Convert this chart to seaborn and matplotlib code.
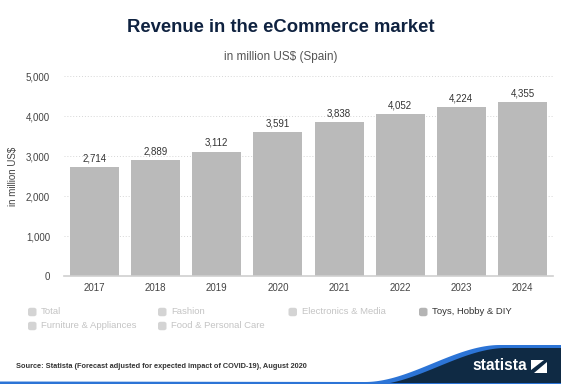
import numpy as np
import pandas as pd
import matplotlib
matplotlib.use("Agg")
import matplotlib.pyplot as plt
import seaborn as sns
from matplotlib.patches import FancyBboxPatch, Polygon
from matplotlib.ticker import FuncFormatter

years = ["2017", "2018", "2019", "2020", "2021", "2022", "2023", "2024"]
revenue = [2714, 2889, 3112, 3591, 3838, 4052, 4224, 4355]
legend_row1 = ["Total", "Fashion", "Electronics & Media", "Toys, Hobby & DIY"]
legend_row2 = ["Furniture & Appliances", "Food & Personal Care"]

df = pd.DataFrame({"year": years, "revenue": revenue})

sns.set_theme(style="white")
plt.rcParams["font.family"] = ["Liberation Sans", "DejaVu Sans"]

W, H = 561, 384
fig = plt.figure(figsize=(W / 100, H / 100), dpi=100)
fig.patch.set_facecolor("white")

def fx(px):
    return px / W

def fy(py):
    return 1 - py / H

ax = fig.add_axes([fx(64), fy(276), fx(553) - fx(64), fy(76) - fy(276)])
sns.barplot(data=df, x="year", y="revenue", color="#bababa", saturation=1,
            width=0.8, ax=ax, edgecolor="none")
ax.set_xlim(-0.5, 7.5)
ax.set_ylim(0, 5000)
ax.set_yticks(range(0, 5001, 1000))
ax.yaxis.set_major_formatter(FuncFormatter(lambda v, p: f"{int(v):,}"))
ax.grid(axis="y", color="#d6d6d6", linestyle=(0, (1, 2)), linewidth=0.7)
ax.set_axisbelow(True)
for s in ["top", "right", "left"]:
    ax.spines[s].set_visible(False)
ax.spines["bottom"].set_color("#cfcfcf")
ax.spines["bottom"].set_linewidth(1.2)
ax.tick_params(axis="both", length=0, labelsize=7, colors="#444444")
ax.tick_params(axis="y", pad=10)
ax.tick_params(axis="x", pad=5)
ax.set_xlabel("")
ax.set_ylabel("in million US$", fontsize=7, color="#444444", labelpad=6)

for i, v in enumerate(revenue):
    ax.text(i, v + 90, f"{v:,}", ha="center", va="bottom", fontsize=7, color="#333333")

fig.text(fx(281), fy(28), "Revenue in the eCommerce market", ha="center", va="center",
         fontsize=13.3, fontweight="bold", color="#0f2240")
fig.text(fx(280.5), fy(57), "in million US$ (Spain)", ha="center", va="center",
         fontsize=8.5, color="#555555")

# legend
def legend_item(px, py, label, active):
    sq = 8.5
    box = FancyBboxPatch((fx(px), fy(py + sq / 2)), fx(sq), sq / H,
                         boxstyle="round,pad=0,rounding_size=0.005",
                         transform=fig.transFigure, facecolor="#b4b4b4" if active else "#d4d4d4",
                         edgecolor="none")
    fig.patches.append(box)
    fig.text(fx(px + 13), fy(py), label, ha="left", va="center", fontsize=6.8,
             color="#333333" if active else "#c4c4c4")

xs = [28, 158, 288.5, 419]
for i, lab in enumerate(legend_row1):
    legend_item(xs[i], 312, lab, lab == "Toys, Hobby & DIY")
for i, lab in enumerate(legend_row2):
    legend_item(xs[i], 326, lab, False)

fig.text(fx(15.5), fy(366.5), "Source: Statista (Forecast adjusted for expected impact of COVID-19), August 2020",
         ha="left", va="center", fontsize=5.3, fontweight="bold", color="#333333")

# footer shape
t = np.linspace(0, 1, 60)
xc = 365 + (500 - 365) * t
yc = 382 - (382 - 345) * (3 * t**2 - 2 * t**3)
top = list(zip(xc, yc)) + [(561, 345)]
blue = Polygon([(fx(x), fy(y)) for x, y in [(0, 381.5)] + top + [(561, 384), (0, 384)]],
               closed=True, transform=fig.transFigure, facecolor="#2c74d6", edgecolor="none")
fig.patches.append(blue)
top2 = [(x + 6, y + 3) for x, y in zip(xc, yc)] + [(561, 348)]
navy = Polygon([(fx(x), fy(y)) for x, y in top2 + [(561, 384), (371, 384)]],
               closed=True, transform=fig.transFigure, facecolor="#0f2a44", edgecolor="none")
fig.patches.append(navy)
fig.patches.append(Polygon([(fx(0), fy(382.5)), (fx(561), fy(382.5)), (fx(561), fy(384)), (fx(0), fy(384))],
                           closed=True, transform=fig.transFigure, facecolor="#2c74d6", edgecolor="none"))
fig.text(fx(500), fy(366), "statista", ha="center", va="center", fontsize=11.2,
         fontweight="bold", color="white")
logo = Polygon([(fx(x), fy(y)) for x, y in [(531, 373), (531, 360), (547, 360), (547, 373)]],
               closed=True, transform=fig.transFigure, facecolor="white", edgecolor="none")
fig.patches.append(logo)
stripe = Polygon([(fx(x), fy(y)) for x, y in [(531, 370), (544, 360), (547, 360), (547, 362), (534, 373), (531, 373)]],
                 closed=True, transform=fig.transFigure, facecolor="#0f2a44", edgecolor="none")
fig.patches.append(stripe)

fig.savefig("out.png", dpi=100, facecolor="white")
